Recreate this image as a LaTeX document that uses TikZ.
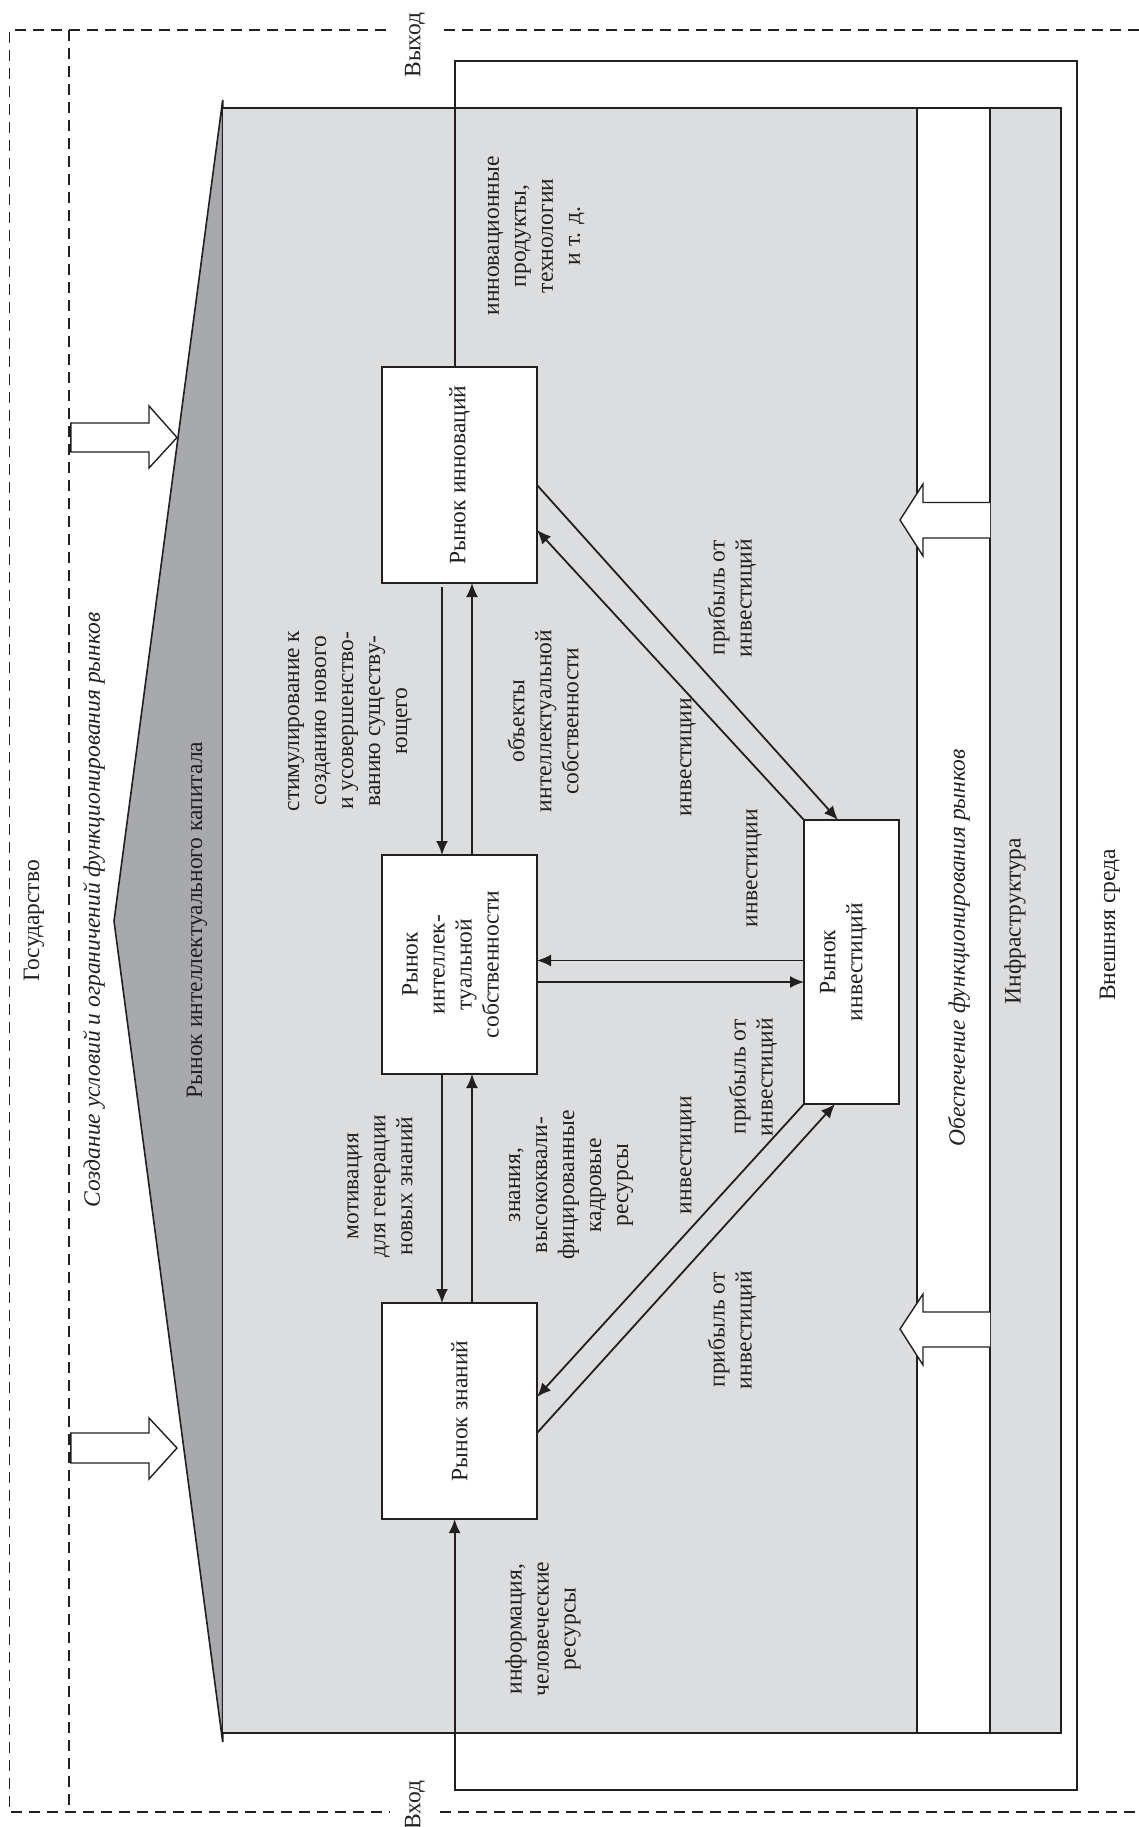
\documentclass[tikz,border=0pt]{standalone}
\usepackage{fontspec}
\setmainfont{Liberation Serif}
\usetikzlibrary{arrows.meta,calc}
\definecolor{lgray}{HTML}{DCDDDF}
\definecolor{dgray}{HTML}{A8A9AD}
\definecolor{ink}{HTML}{231F20}
\begin{document}
\begin{tikzpicture}[x=1pt,y=-1pt,
  lbl/.style={rotate=90, align=center, font=\fontsize{23.5}{27}\selectfont, text=ink, inner sep=0pt},
  ilbl/.style={rotate=90, align=center, font=\fontsize{23.5}{27}\selectfont\itshape, text=ink, inner sep=0pt},
  mbox/.style={draw=ink, line width=2pt, fill=white, inner sep=0pt, outer sep=0pt, minimum width=155pt},
  conn/.style={draw=ink, line width=1.8pt},
  arr/.style={conn, -{Latex[length=14pt,width=12pt]}},
  dsh/.style={draw=ink, line width=1.4pt, dash pattern=on 11pt off 7pt},
  barrow/.style={draw=ink, line width=1.4pt, fill=white}]

\fill[white] (0,0) rectangle (1139,1827);
\useasboundingbox (0,0) rectangle (1139,1827);

% dashed frame (Государство / внешняя граница)
\draw[dsh] (386,30) -- (9.6,30) -- (9.6,1812) -- (390,1812);
\draw[dsh] (444,30) -- (1139,30);
\draw[dsh] (440,1812) -- (1139,1812);
\draw[dsh] (69,30) -- (69,1812);

% pentagon and main areas
\filldraw[fill=dgray, draw=ink, line width=1.6pt] (222.7,100) -- (114,921) -- (222.7,1742) -- cycle;
\filldraw[fill=lgray, draw=ink, line width=1.2pt] (222.7,108) rectangle (917,1733);
\filldraw[fill=white, draw=ink, line width=1.5pt] (917,108) rectangle (990,1733);
\filldraw[fill=lgray, draw=ink, line width=2pt] (990,108) rectangle (1061,1733);

% block arrows (left)
\filldraw[barrow] (70.8,423) -- (149,423) -- (149,406) -- (177,437.5) -- (149,468) -- (149,452) -- (70.8,452) -- cycle;
\filldraw[barrow] (70.8,1433) -- (149,1433) -- (149,1418) -- (177,1448) -- (149,1479) -- (149,1463) -- (70.8,1463) -- cycle;
% block arrows (right)
\filldraw[barrow] (990,502.5) -- (923,502.5) -- (923,484) -- (900,520) -- (923,556) -- (923,538) -- (990,538);
\filldraw[barrow] (990,1312) -- (923,1312) -- (923,1294) -- (900,1329) -- (923,1365) -- (923,1347) -- (990,1347);

% boxes
\node[mbox, minimum height=216pt] (innov) at (459.5,475) {};
\node[mbox, minimum height=219pt] (ip) at (459.5,964.5) {};
\node[mbox, minimum height=216pt] (know) at (459.5,1411) {};
\node[mbox, minimum width=95pt, minimum height=284pt] (invest) at (851.5,962) {};

\node[lbl] (tinnov) at (innov.center) {Рынок инноваций};
\node[lbl] (tip) at ($(ip.center)+(-9,0)$) {Рынок\\интеллек-\\туальной\\собственности};
\node[lbl] (tknow) at (know.center) {Рынок знаний};
\node[lbl] (tinvest) at ($(invest.center)+(-8,0)$) {Рынок\\инвестиций};

% input/output frame
\coordinate (xo) at (454.6,0);
\coordinate (ftl) at (454.6,61);
\coordinate (ftr) at (1077,61);
\coordinate (fbr) at (1077,1790);
\coordinate (fbl) at (454.6,1790);
\draw[arr, line width=2.2pt] (innov.north -| xo) -- (ftl) -- (ftr) -- (fbr) -- (fbl) -- (know.south -| xo);

% vertical connectors
\coordinate (xa) at (442,0);
\coordinate (xb) at (472,0);
\draw[arr] ($(innov.south -| xa)+(0,4)$) -- (ip.north -| xa);
\draw[arr] (ip.north -| xb) -- (innov.south -| xb);
\draw[arr] (ip.south -| xa) -- (know.north -| xa);
\draw[arr] (know.north -| xb) -- (ip.south -| xb);

% horizontal connectors
\coordinate (yh1) at (0,960.5);
\coordinate (yh2) at (0,982);
\draw[arr] (invest.west |- yh1) -- (ip.east |- yh1);
\draw[arr] (ip.east |- yh2) -- (invest.west |- yh2);

% diagonal connectors
\coordinate (yd1) at (0,485);
\coordinate (yd2) at (0,530);
\coordinate (yd3) at (0,1397);
\coordinate (yd4) at (0,1433);
\coordinate (xd1) at (838,0);
\coordinate (xd4) at (835,0);
\draw[arr] (innov.east |- yd1) -- (invest.north -| xd1);
\draw[arr] (invest.north west) -- (innov.east |- yd2);
\draw[arr] (invest.south west) -- (know.east |- yd3);
\draw[arr] (know.east |- yd4) -- (invest.south -| xd4);

% labels
\node[lbl] (vyhod) at (415,45) {Выход};
\node[lbl] (vhod) at (415,1805) {Вход};
\node[lbl] (gos) at (34,921) {Государство};
\node[ilbl] (sozd) at (94,910) {Создание условий и ограничений функционирования рынков};
\node[lbl] (ric) at (197,920) {Рынок интеллектуального капитала};
\node[lbl] (innout) at (536,236) {инновационные\\продукты,\\технологии\\и т. д.};
\node[lbl] (stim) at (350,721) {стимулирование к\\созданию нового\\и усовершенство-\\ванию существу-\\ющего};
\node[lbl] (obj) at (543,721) {объекты\\интеллектуальной\\собственности};
\node[lbl] (prib1) at (732,598) {прибыль от\\инвестиций};
\node[lbl] (inv1) at (688,757) {инвестиции};
\node[lbl] (inv2) at (754,868) {инвестиции};
\node[lbl] (prib2) at (753,1077) {прибыль от\\инвестиций};
\node[lbl] (inv3) at (688,1155) {инвестиции};
\node[lbl] (prib3) at (732,1330) {прибыль от\\инвестиций};
\node[lbl] (motiv) at (380,1186) {мотивация\\для генерации\\новых знаний};
\node[lbl] (znan) at (571,1185) {знания,\\высококвали-\\фицированные\\кадровые\\ресурсы};
\node[lbl] (inform) at (543,1629) {информация,\\человеческие\\ресурсы};
\node[ilbl] (obesp) at (959,948) {Обеспечение функционирования рынков};
\node[lbl] (infra) at (1015,921) {Инфраструктура};
\node[lbl] (vnesh) at (1110,925) {Внешняя среда};
\end{tikzpicture}
\end{document}
